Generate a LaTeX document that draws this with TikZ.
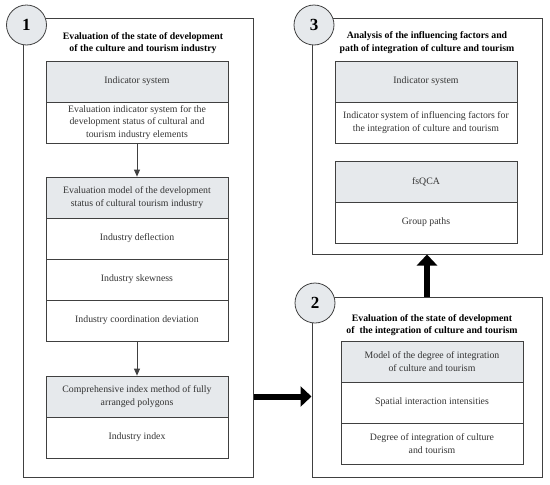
\documentclass[tikz,border=0pt]{standalone}
\usepackage{fontspec}
\setmainfont{Liberation Serif}
\usetikzlibrary{arrows.meta}
\definecolor{headgray}{HTML}{E6E9EC}
\definecolor{linegray}{HTML}{404040}

\begin{document}
\begin{tikzpicture}[x=1pt,y=-1pt,
        panel/.style={draw=linegray,line width=1pt,minimum width=230pt},
        numcircle/.style={circle,draw=linegray,line width=0.8pt,fill=headgray,minimum size=40pt,inner sep=0pt,font=\fontsize{17}{20}\selectfont\bfseries},
        headline/.style={align=center,font=\fontsize{9.8}{12.5}\selectfont\bfseries},
        cell/.style={draw=linegray,line width=0.8pt,minimum width=182pt,minimum height=41pt,align=center,inner sep=2pt,text=black!80,font=\fontsize{9.8}{12.5}\selectfont},
        headcell/.style={cell,fill=headgray},
        flow/.style={-{Triangle[length=7pt,width=6pt]},draw=linegray,line width=0.8pt},
        bigflow/.style={-{Triangle[length=11pt,width=20pt]},line width=6pt}]
        \useasboundingbox (0,0) rectangle (550,485);

        % frames
        \node (P1) at (138,247.5) [panel,minimum height=459pt] {};
        \node (P3) at (427,136)   [panel,minimum height=236pt] {};
        \node (P2) at (427,387)   [panel,minimum height=180pt] {};

        \node (T1) at (143,43)   [headline] {Evaluation of the state of development\\of the culture and tourism industry};
        \node (T3) at (427,42.5) [headline] {Analysis of the influencing factors and\\path of integration of culture and tourism};
        \node (T2) at (432,325)  [headline] {Evaluation of the state of development\\of~ the integration of culture and tourism};

        % step 1
        \node (Aind)   at (137,81.5)  [headcell] {Indicator system};
        \node (Aeval)  at (137,122.5) [cell] {Evaluation indicator system for the\\development status of cultural and\\tourism industry elements};
        \node (Bmodel) at (137,197.5) [headcell] {Evaluation model of the development\\status of cultural tourism industry};
        \node (Bdefl)  at (137,238.5) [cell] {Industry deflection};
        \node (Bskew)  at (137,279.5) [cell] {Industry skewness};
        \node (Bcoord) at (137,320.5) [cell] {Industry coordination deviation};
        \node (Cpoly)  at (137,396.5) [headcell] {Comprehensive index method of fully\\arranged polygons};
        \node (Cindex) at (137,437.5) [cell] {Industry index};

        \draw[flow] (Aeval) -- (Bmodel);
        \draw[flow] (Bcoord) -- (Cpoly);

        % step 3
        \node (Tind)  at (426,81.5)  [headcell] {Indicator system};
        \node (Tfac)  at (426,122.5) [cell] {Indicator system of influencing factors for\\the integration of culture and tourism};
        \node (Tqca)  at (426,181.5) [headcell] {fsQCA};
        \node (Tpath) at (426,222.5) [cell] {Group paths};

        % step 2
        \node (Smodel) at (432,361.5) [headcell] {Model of the degree of integration\\of culture and tourism};
        \node (Sspat)  at (432,402.5) [cell] {Spatial interaction intensities};
        \node (Sdeg)   at (432,443.5) [cell] {Degree of integration of culture\\and tourism};

        \node (N1) at (26.5,25) [numcircle] {1};
        \node (N3) at (314,25)  [numcircle] {3};
        \node (N2) at (315,303) [numcircle] {2};

        \draw[bigflow] (P1.east |- Cpoly) -- (P2.west |- Cpoly);
        \draw[bigflow] (P2.north) -- (P3.south);
\end{tikzpicture}
\end{document}
